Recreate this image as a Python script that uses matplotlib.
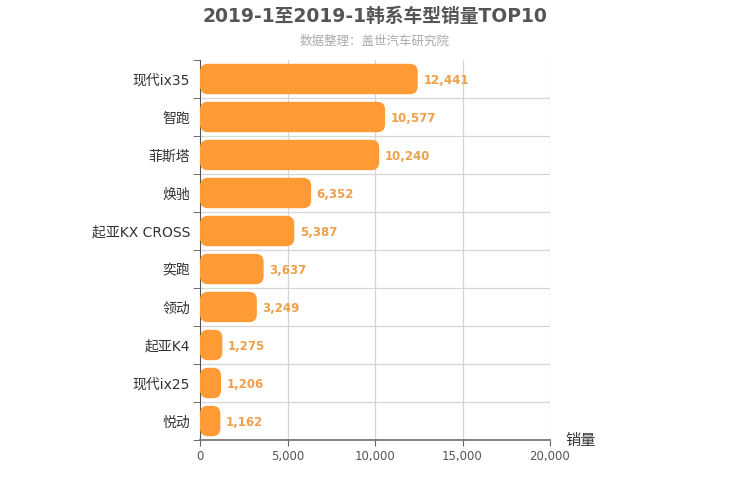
import matplotlib
matplotlib.use("Agg")
import matplotlib.pyplot as plt
from matplotlib.patches import FancyBboxPatch

plt.rcParams['font.family'] = ['DejaVu Sans', 'Noto Sans CJK SC']

# ============================================================================
# DATA
# ============================================================================

models = ["现代ix35", "智跑", "菲斯塔", "焕驰", "起亚KX CROSS",
          "奕跑", "领动", "起亚K4", "现代ix25", "悦动"]
sales = [12441, 10577, 10240, 6352, 5387, 3637, 3249, 1275, 1206, 1162]
x_ticks = [0, 5000, 10000, 15000, 20000]

BAR_COLOR = "#FF9A35"
LABEL_COLOR = "#EFA04A"

# ============================================================================
# PLOT
# ============================================================================

fig = plt.figure(figsize=(7.5, 5), dpi=100)
ax = fig.add_axes([200 / 750, 60 / 500, 350 / 750, 380 / 500])

ypos = list(range(len(models)))[::-1]
bars = ax.barh(ypos, sales, height=0.8, color=BAR_COLOR)

ax.set_xlim(0, 20000)
ax.set_ylim(-0.5, len(models) - 0.5)

# rounded bars, built from the bar geometry
px_x = 20000 / 350
px_y = len(models) / 380
for b in bars:
    b.set_visible(False)
    p = FancyBboxPatch((b.get_x(), b.get_y()), b.get_width(), b.get_height(),
                       boxstyle=f"round,pad=0,rounding_size={8 * px_x}",
                       mutation_aspect=px_y / px_x,
                       facecolor=BAR_COLOR, edgecolor="none", zorder=3)
    ax.add_patch(p)

for y, v in zip(ypos, sales):
    ax.annotate(f"{v:,}", (v, y), xytext=(4, -1), textcoords="offset points",
                va="center", ha="left", color=LABEL_COLOR,
                fontsize=8.5, fontweight="bold")

# grid
for xv in x_ticks[1:]:
    ax.axvline(xv, color="#d6d6d6", lw=0.9, zorder=1)
for k in range(len(models) - 1):
    ax.axhline(k + 0.5, color="#d6d6d6", lw=0.9, zorder=1)

ax.set_yticks(ypos)
ax.set_yticklabels(models, fontsize=10, color="#333333")
ax.set_yticks([k - 0.5 for k in range(len(models) + 1)], minor=True)
ax.tick_params(axis="y", which="major", length=0, pad=7)
ax.tick_params(axis="y", which="minor", length=5, color="#555555")

ax.set_xticks(x_ticks)
ax.set_xticklabels([f"{t:,}" for t in x_ticks], fontsize=8.5, color="#555555")
ax.tick_params(axis="x", length=4, color="#666666", pad=3)

for s in ["top", "right"]:
    ax.spines[s].set_visible(False)
ax.spines["left"].set_color("#555555")
ax.spines["bottom"].set_color("#777777")
ax.spines["bottom"].set_linewidth(1.3)

fig.text(565 / 750, 1 - 440 / 500, "销量", fontsize=11, color="#333333",
         ha="left", va="center")

fig.text(375 / 750, 1 - 16 / 500, "2019-1至2019-1韩系车型销量TOP10",
         fontsize=13.5, fontweight="bold", color="#555555", ha="center", va="center")
fig.text(375 / 750, 1 - 41 / 500, "数据整理：盖世汽车研究院",
         fontsize=9, color="#AAAAAA", ha="center", va="center")

fig.savefig("out.png", dpi=100)
